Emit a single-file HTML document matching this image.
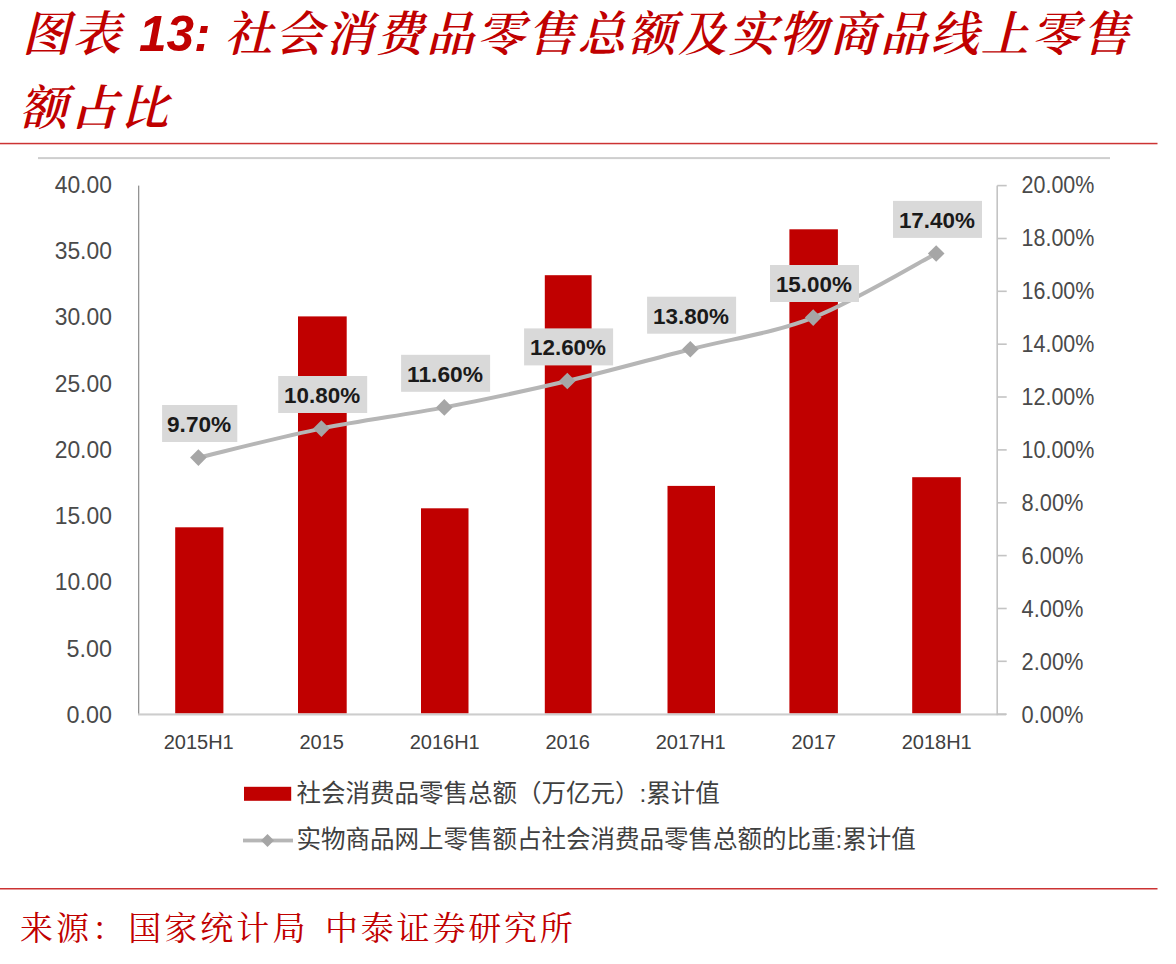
<!DOCTYPE html>
<html lang="zh-CN"><head><meta charset="utf-8"><title>图表 13</title>
<style>
html,body{margin:0;padding:0;background:#fff;}
body{width:1176px;height:964px;overflow:hidden;position:relative;}
svg{position:absolute;left:0;top:0;display:block;}
.ttl{font-family:"Liberation Sans","Noto Serif CJK SC",serif;font-weight:700;font-style:italic;fill:#c00000;font-size:49.5px;}
.kai{font-size:48px;letter-spacing:2.42px;font-weight:600;}
.src{font-family:"Liberation Serif","Noto Serif CJK SC",serif;font-weight:400;fill:#c00000;font-size:33px;}
.ax{font-family:"Liberation Sans","Noto Sans CJK SC",sans-serif;font-size:20px;fill:#404040;}
.ay{font-family:"Liberation Sans","Noto Sans CJK SC",sans-serif;font-size:23.6px;fill:#4a4a4a;}
.dl{font-family:"Liberation Sans","Noto Sans CJK SC",sans-serif;font-size:22px;font-weight:700;fill:#1a1a1a;}
.lg{font-family:"Liberation Sans","Noto Sans CJK SC",sans-serif;font-size:24.5px;fill:#404040;}
</style></head><body>
<svg width="1176" height="964" viewBox="0 0 1176 964">
<rect x="0" y="0" width="1176" height="964" fill="#ffffff"/>
<text class="ttl" y="51"><tspan class="kai" x="22">图表</tspan> <tspan x="139">13:</tspan> <tspan class="kai" x="224.5">社会消费品零售总额及实物商品线上零售</tspan></text>
<text class="ttl" y="125"><tspan class="kai" x="19.5">额占比</tspan></text>
<rect x="0" y="142.8" width="1157.5" height="1.5" fill="#cc3333"/>
<rect x="0" y="888" width="1157.5" height="1.5" fill="#cc3333"/>
<rect x="38" y="157.1" width="1072" height="2" fill="#cecece"/>
<rect x="175.2" y="527.3" width="48.2" height="186.2" fill="#c00000"/>
<rect x="298.0" y="316.4" width="48.7" height="397.1" fill="#c00000"/>
<rect x="421.0" y="508.3" width="47.5" height="205.2" fill="#c00000"/>
<rect x="544.8" y="275.2" width="46.8" height="438.3" fill="#c00000"/>
<rect x="667.5" y="485.9" width="47.5" height="227.6" fill="#c00000"/>
<rect x="789.4" y="229.3" width="48.5" height="484.2" fill="#c00000"/>
<rect x="912.2" y="477.2" width="48.6" height="236.3" fill="#c00000"/>
<rect x="138.0" y="185.6" width="1.3" height="528.6" fill="#939393"/>
<rect x="138.0" y="713.4" width="868.1" height="2.1" fill="#cdcdcd"/>
<rect x="996.4" y="185.6" width="1.6" height="529.6" fill="#c4c4c4"/>
<rect x="997.2" y="713.4" width="9.5" height="1.6" fill="#c4c4c4"/>
<rect x="997.2" y="660.5" width="9.5" height="1.6" fill="#c4c4c4"/>
<rect x="997.2" y="607.7" width="9.5" height="1.6" fill="#c4c4c4"/>
<rect x="997.2" y="554.8" width="9.5" height="1.6" fill="#c4c4c4"/>
<rect x="997.2" y="502.0" width="9.5" height="1.6" fill="#c4c4c4"/>
<rect x="997.2" y="449.1" width="9.5" height="1.6" fill="#c4c4c4"/>
<rect x="997.2" y="396.2" width="9.5" height="1.6" fill="#c4c4c4"/>
<rect x="997.2" y="343.4" width="9.5" height="1.6" fill="#c4c4c4"/>
<rect x="997.2" y="290.5" width="9.5" height="1.6" fill="#c4c4c4"/>
<rect x="997.2" y="237.7" width="9.5" height="1.6" fill="#c4c4c4"/>
<rect x="997.2" y="184.8" width="9.5" height="1.6" fill="#c4c4c4"/>
<text class="ay" x="111.9" y="722.9" text-anchor="end" textLength="45.4" lengthAdjust="spacingAndGlyphs">0.00</text>
<text class="ay" x="111.9" y="656.7" text-anchor="end" textLength="45.4" lengthAdjust="spacingAndGlyphs">5.00</text>
<text class="ay" x="111.9" y="590.4" text-anchor="end" textLength="57.2" lengthAdjust="spacingAndGlyphs">10.00</text>
<text class="ay" x="111.9" y="524.2" text-anchor="end" textLength="57.2" lengthAdjust="spacingAndGlyphs">15.00</text>
<text class="ay" x="111.9" y="457.9" text-anchor="end" textLength="57.2" lengthAdjust="spacingAndGlyphs">20.00</text>
<text class="ay" x="111.9" y="391.6" text-anchor="end" textLength="57.2" lengthAdjust="spacingAndGlyphs">25.00</text>
<text class="ay" x="111.9" y="325.4" text-anchor="end" textLength="57.2" lengthAdjust="spacingAndGlyphs">30.00</text>
<text class="ay" x="111.9" y="259.1" text-anchor="end" textLength="57.2" lengthAdjust="spacingAndGlyphs">35.00</text>
<text class="ay" x="111.9" y="192.9" text-anchor="end" textLength="57.2" lengthAdjust="spacingAndGlyphs">40.00</text>
<text class="ay" x="1021.6" y="722.9" textLength="61.8" lengthAdjust="spacingAndGlyphs">0.00%</text>
<text class="ay" x="1021.6" y="669.9" textLength="61.8" lengthAdjust="spacingAndGlyphs">2.00%</text>
<text class="ay" x="1021.6" y="616.9" textLength="61.8" lengthAdjust="spacingAndGlyphs">4.00%</text>
<text class="ay" x="1021.6" y="563.9" textLength="61.8" lengthAdjust="spacingAndGlyphs">6.00%</text>
<text class="ay" x="1021.6" y="510.9" textLength="61.8" lengthAdjust="spacingAndGlyphs">8.00%</text>
<text class="ay" x="1021.6" y="457.9" textLength="72.8" lengthAdjust="spacingAndGlyphs">10.00%</text>
<text class="ay" x="1021.6" y="404.9" textLength="72.8" lengthAdjust="spacingAndGlyphs">12.00%</text>
<text class="ay" x="1021.6" y="351.9" textLength="72.8" lengthAdjust="spacingAndGlyphs">14.00%</text>
<text class="ay" x="1021.6" y="298.9" textLength="72.8" lengthAdjust="spacingAndGlyphs">16.00%</text>
<text class="ay" x="1021.6" y="245.9" textLength="72.8" lengthAdjust="spacingAndGlyphs">18.00%</text>
<text class="ay" x="1021.6" y="192.9" textLength="72.8" lengthAdjust="spacingAndGlyphs">20.00%</text>
<text class="ax" x="198.7" y="749.2" text-anchor="middle">2015H1</text>
<text class="ax" x="321.7" y="749.2" text-anchor="middle">2015</text>
<text class="ax" x="444.7" y="749.2" text-anchor="middle">2016H1</text>
<text class="ax" x="567.7" y="749.2" text-anchor="middle">2016</text>
<text class="ax" x="690.7" y="749.2" text-anchor="middle">2017H1</text>
<text class="ax" x="813.7" y="749.2" text-anchor="middle">2017</text>
<text class="ax" x="936.7" y="749.2" text-anchor="middle">2018H1</text>
<path d="M198.4,457.6 C218.9,452.8 280.4,436.9 321.4,428.6 C362.4,420.2 403.4,415.3 444.3,407.4 C485.3,399.5 526.3,390.7 567.3,381.0 C608.3,371.3 649.3,359.8 690.3,349.3 C731.3,338.7 772.3,333.5 813.2,317.6 C854.2,301.6 915.7,264.2 936.2,253.5" fill="none" stroke="#b6b6b6" stroke-width="4" stroke-linecap="round" stroke-linejoin="round"/>
<path d="M198.4,449.3 l8.3,8.3 l-8.3,8.3 l-8.3,-8.3 z" fill="#a6a6a6"/>
<path d="M321.4,420.3 l8.3,8.3 l-8.3,8.3 l-8.3,-8.3 z" fill="#a6a6a6"/>
<path d="M444.3,399.1 l8.3,8.3 l-8.3,8.3 l-8.3,-8.3 z" fill="#a6a6a6"/>
<path d="M567.3,372.7 l8.3,8.3 l-8.3,8.3 l-8.3,-8.3 z" fill="#a6a6a6"/>
<path d="M690.3,341.0 l8.3,8.3 l-8.3,8.3 l-8.3,-8.3 z" fill="#a6a6a6"/>
<path d="M813.2,309.3 l8.3,8.3 l-8.3,8.3 l-8.3,-8.3 z" fill="#a6a6a6"/>
<path d="M936.2,245.2 l8.3,8.3 l-8.3,8.3 l-8.3,-8.3 z" fill="#a6a6a6"/>
<rect x="162.1" y="405.0" width="75.2" height="37" fill="#d9d9d9"/>
<text class="dl" x="199.1" y="431.9" text-anchor="middle" textLength="64.2" lengthAdjust="spacingAndGlyphs">9.70%</text>
<rect x="278.2" y="376.0" width="89.0" height="37" fill="#d9d9d9"/>
<text class="dl" x="322.1" y="402.9" text-anchor="middle" textLength="76.0" lengthAdjust="spacingAndGlyphs">10.80%</text>
<rect x="401.1" y="354.8" width="89.0" height="37" fill="#d9d9d9"/>
<text class="dl" x="445.0" y="381.7" text-anchor="middle" textLength="76.0" lengthAdjust="spacingAndGlyphs">11.60%</text>
<rect x="524.1" y="328.4" width="89.0" height="37" fill="#d9d9d9"/>
<text class="dl" x="568.0" y="355.3" text-anchor="middle" textLength="76.0" lengthAdjust="spacingAndGlyphs">12.60%</text>
<rect x="647.1" y="296.7" width="89.0" height="37" fill="#d9d9d9"/>
<text class="dl" x="691.0" y="323.6" text-anchor="middle" textLength="76.0" lengthAdjust="spacingAndGlyphs">13.80%</text>
<rect x="770.0" y="265.0" width="89.0" height="37" fill="#d9d9d9"/>
<text class="dl" x="813.9" y="291.9" text-anchor="middle" textLength="76.0" lengthAdjust="spacingAndGlyphs">15.00%</text>
<rect x="893.0" y="200.9" width="89.0" height="37" fill="#d9d9d9"/>
<text class="dl" x="936.9" y="227.8" text-anchor="middle" textLength="76.0" lengthAdjust="spacingAndGlyphs">17.40%</text>
<rect x="244" y="786.8" width="47.2" height="14" fill="#c00000"/>
<text class="lg" x="296.5" y="802.2">社会消费品零售总额（万亿元）:累计值</text>
<rect x="243" y="838.6" width="50" height="3.8" fill="#b6b6b6"/>
<path d="M267.5,834 l6.5,6.5 l-6.5,6.5 l-6.5,-6.5 z" fill="#a5a5a5"/>
<text class="lg" x="296.5" y="848">实物商品网上零售额占社会消费品零售总额的比重:累计值</text>
<text class="src" y="940"><tspan x="20" style="letter-spacing:3.06px">来源：国家统计局</tspan> <tspan x="325" style="letter-spacing:2.8px">中泰证券研究所</tspan></text>
</svg>
</body></html>
